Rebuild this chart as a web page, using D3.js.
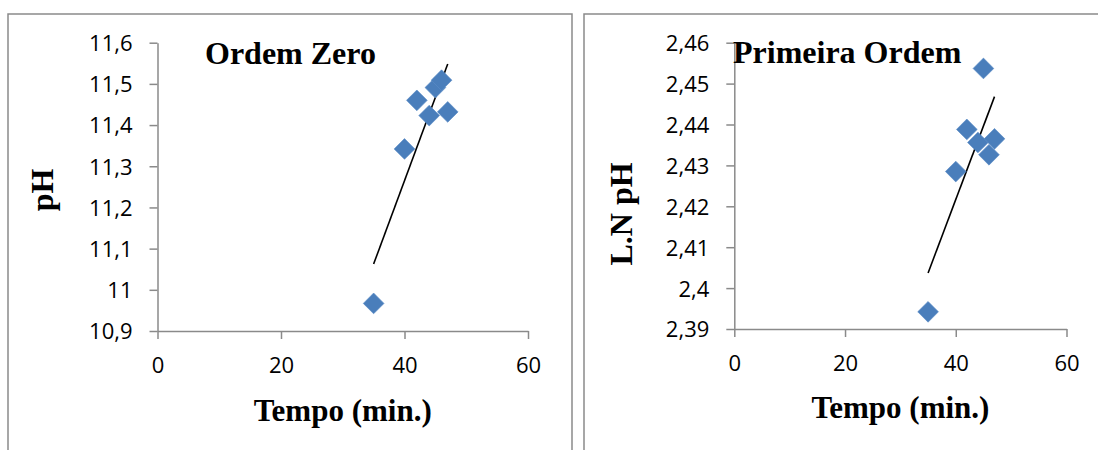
<!DOCTYPE html>
<html>
<head>
<meta charset="utf-8">
<script src="https://cdn.jsdelivr.net/npm/d3@7"></script>
<style>
  html, body { margin: 0; padding: 0; background: #fff; }
  svg { display: block; }
</style>
</head>
<body>
<svg id="chart" width="1098" height="450"></svg>
<script>
// ---- Data ----
const timeLeft = [35, 40, 42, 44, 45, 46, 47];
const phValues = [10.967, 11.342, 11.460, 11.423, 11.491, 11.509, 11.432];
const timeRight = [35, 40, 42, 44, 45, 46, 47];
const lnPhValues = [2.3942, 2.4285, 2.4388, 2.4356, 2.4537, 2.4326, 2.4365];
const xTicks = [0, 20, 40, 60];
const yTicksLeft = [10.9, 11.0, 11.1, 11.2, 11.3, 11.4, 11.5, 11.6];
const yTickLabelsLeft = ["10,9", "11", "11,1", "11,2", "11,3", "11,4", "11,5", "11,6"];
const yTicksRight = [2.39, 2.40, 2.41, 2.42, 2.43, 2.44, 2.45, 2.46];
const yTickLabelsRight = ["2,39", "2,4", "2,41", "2,42", "2,43", "2,44", "2,45", "2,46"];
const titles = ["Ordem Zero", "Primeira Ordem"];
const xTitle = "Tempo (min.)";
const yTitles = ["pH", "L.N pH"];

const svg = d3.select("#chart");
const axisColor = "#8a8a8a";
const markerColor = "#4a7ebb";
const tickFont = "'Open Sans', 'Noto Sans', sans-serif";
const serif = "'Liberation Serif', 'Times New Roman', serif";

// panel borders
svg.append("path")
  .attr("d", "M8,452 L8,14 L572,14 L572,452")
  .attr("fill", "none").attr("stroke", axisColor).attr("stroke-width", 1.5);
svg.append("path")
  .attr("d", "M584,452 L584,14 L1100,14")
  .attr("fill", "none").attr("stroke", axisColor).attr("stroke-width", 1.5);

function regression(xs, ys) {
  const n = xs.length;
  const mx = d3.mean(xs), my = d3.mean(ys);
  let sxy = 0, sxx = 0;
  for (let i = 0; i < n; i++) { sxy += (xs[i] - mx) * (ys[i] - my); sxx += (xs[i] - mx) ** 2; }
  const b = sxy / sxx;
  return x => my + b * (x - mx);
}

function drawPanel(cfg) {
  const x = d3.scaleLinear().domain([0, 60]).range([cfg.x0, cfg.x1]);
  const y = d3.scaleLinear().domain(cfg.yDomain).range([cfg.yBottom, cfg.yTop]);
  const g = svg.append("g");

  // x axis
  const xAxis = g.append("g").attr("transform", `translate(0,${cfg.yBottom})`)
    .call(d3.axisBottom(x).tickValues(xTicks).tickSize(8).tickSizeOuter(0).tickFormat(d3.format("d")));
  // y axis
  const yAxis = g.append("g").attr("transform", `translate(${cfg.x0},0)`)
    .call(d3.axisLeft(y).tickValues(cfg.yTicks).tickSize(8).tickSizeOuter(0)
      .tickFormat((d, i) => cfg.yLabels[i]));

  [xAxis, yAxis].forEach(a => {
    a.select(".domain").attr("stroke", axisColor).attr("stroke-width", 1.5);
    a.selectAll(".tick line").attr("stroke", axisColor).attr("stroke-width", 1.5);
    a.selectAll(".tick text").attr("fill", "#000").attr("font-family", tickFont).attr("font-size", 22);
  });
  xAxis.selectAll(".tick text").attr("y", 34).attr("dy", "0.71em").attr("dy", null)
    .attr("dominant-baseline", "alphabetic").attr("y", 42);
  yAxis.selectAll(".tick text").attr("x", -25).attr("dy", "0.36em");

  // trendline
  const f = regression(cfg.xs, cfg.ys);
  const xmin = d3.min(cfg.xs), xmax = d3.max(cfg.xs);
  g.append("line")
    .attr("x1", x(xmin)).attr("y1", y(f(xmin)))
    .attr("x2", x(xmax)).attr("y2", y(f(xmax)))
    .attr("stroke", "#000").attr("stroke-width", 1.6);

  // markers
  const sym = d3.symbol().type(d3.symbolSquare).size(215);
  g.selectAll("path.pt").data(cfg.xs.map((d, i) => [d, cfg.ys[i]]))
    .enter().append("path").attr("class", "pt")
    .attr("d", sym)
    .attr("transform", d => `translate(${x(d[0])},${y(d[1])}) rotate(45)`)
    .attr("fill", markerColor)
    .attr("stroke", "#5b8cc6").attr("stroke-width", 0.6);

  // title
  g.append("text").text(cfg.title)
    .attr("x", cfg.titleX).attr("y", cfg.titleY)
    .attr("font-family", serif).attr("font-weight", "bold").attr("font-size", 32);

  // x title
  g.append("text").text(xTitle)
    .attr("x", (cfg.x0 + cfg.x1) / 2).attr("y", cfg.xTitleY)
    .attr("text-anchor", "middle")
    .attr("font-family", serif).attr("font-weight", "bold").attr("font-size", 31);

  // y title
  g.append("text").text(cfg.yTitle)
    .attr("transform", `translate(${cfg.yTitleX},${cfg.yTitleCY}) rotate(-90)`)
    .attr("text-anchor", "middle")
    .attr("font-family", serif).attr("font-weight", "bold").attr("font-size", 32);
}

drawPanel({
  x0: 157.5, x1: 528, yTop: 42.7, yBottom: 331,
  yDomain: [10.9, 11.6], yTicks: yTicksLeft, yLabels: yTickLabelsLeft,
  xs: timeLeft, ys: phValues,
  title: titles[0], titleX: 205, titleY: 64,
  xTitleY: 421, yTitle: yTitles[0], yTitleX: 53, yTitleCY: 190
});

drawPanel({
  x0: 734.3, x1: 1066.5, yTop: 42.7, yBottom: 329,
  yDomain: [2.39, 2.46], yTicks: yTicksRight, yLabels: yTickLabelsRight,
  xs: timeRight, ys: lnPhValues,
  title: titles[1], titleX: 733, titleY: 63,
  xTitleY: 418, yTitle: yTitles[1], yTitleX: 631.5, yTitleCY: 214
});
</script>
</body>
</html>
